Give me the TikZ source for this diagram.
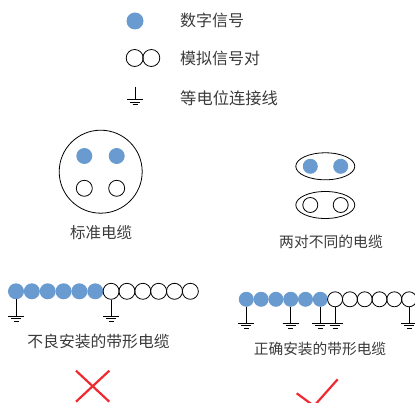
\documentclass[tikz,border=0pt]{standalone}
\usepackage{fontspec}
\usetikzlibrary{shapes.geometric}
\newfontfamily\cjk{Noto Sans CJK SC}
\definecolor{sigblue}{HTML}{6A9BD0}
\definecolor{txtgray}{HTML}{3A3A3A}
\definecolor{crossred}{HTML}{EE2A30}
\tikzset{
  digital/.style={circle,fill=sigblue,inner sep=0pt,minimum size=#1},
  digital/.default=16pt,
  analog/.style={circle,draw=black,line width=0.8pt,inner sep=0pt,minimum size=#1},
  analog/.default=16pt,
  sheath/.style={ellipse,draw=black,line width=0.8pt,inner sep=0pt,minimum width=59pt,minimum height=27pt},
  caption/.style={font=\cjk\fontsize{#1}{#1}\selectfont,text=txtgray,inner sep=0pt},
  caption/.default=15.5pt,
  wire/.style={line width=0.8pt,black},
  redline/.style={line width=2.2pt,crossred},
  earth/.pic={
    \draw[wire] (-8,0) -- (8,0);
    \draw[wire] (-5,2.6) -- (5,2.6);
    \draw[wire] (-2.5,5) -- (2.5,5);
  }
}
\begin{document}
\begin{tikzpicture}[x=1pt,y=-1pt]
    \useasboundingbox (0,0) rectangle (415,403);
    % legend
    \node[digital=17pt] (legA) at (135,21) {};
    \node[analog=17pt] (legB) at (134.7,58) {};
    \node[analog=17pt] (legC) at (151.3,58) {};
    \coordinate (legT) at (135,87);
    \coordinate (legG) at (135,99.5);
    \draw[wire] (legT) -- (legG);
    \pic at (legG) {earth};
    \node[caption=16pt,anchor=west] (txtA) at (180,20) {数字信号};
    \node[caption=16pt,anchor=west] (txtB) at (180,58) {模拟信号对};
    \node[caption=16.3pt,anchor=west] (txtC) at (180,98) {等电位连接线};
    % round cable
    \node[circle,draw=black,line width=0.8pt,inner sep=0pt,minimum size=83pt] (round) at (100.7,171.7) {};
    \node[digital] (rdA) at (84.3,156) {};
    \node[digital] (rdB) at (116.7,156) {};
    \node[analog] (rdC) at (84.3,188.3) {};
    \node[analog] (rdD) at (116.7,188.3) {};
    \node[caption] (txtR) at (101,232.7) {标准电缆};
    % two pairs
    \node[sheath] (pairA) at (325.3,166.3) {};
    \node[sheath] (pairB) at (325.3,205) {};
    \node[digital=15pt] (paA) at (310.3,166.3) {};
    \node[digital=15pt] (paB) at (340.7,166.3) {};
    \node[analog=15pt] (pbA) at (310.3,205) {};
    \node[analog=15pt] (pbB) at (340.7,205) {};
    \node[caption=14.8pt] (txtP) at (331,242) {两对不同的电缆};
    % bad ribbon
    \foreach \i in {0,...,5}
      \node[digital] (ba\i) at (16+15.85*\i,291.3) {};
    \foreach \i in {6,...,11}
      \node[analog] (ba\i) at (16+15.85*\i,291.3) {};
    \foreach \i in {0,6} {
      \coordinate (bg\i) at (16+15.85*\i,316);
      \draw[wire] (ba\i.south) -- (bg\i);
      \pic at (bg\i) {earth};
    }
    \node[caption=15.8pt] (txtL) at (98.5,341.7) {不良安装的带形电缆};
    \coordinate (xa) at (76,370.7);
    \coordinate (xb) at (109.3,401.7);
    \coordinate (xc) at (109.3,370.7);
    \coordinate (xd) at (76,401.7);
    \draw[redline] (xa) -- (xb);
    \draw[redline] (xc) -- (xd);
    % good ribbon
    \foreach \i in {0,...,5}
      \node[digital=15pt] (go\i) at (246.3+14.8*\i,299.3) {};
    \foreach \i in {6,...,11}
      \node[analog=15pt] (go\i) at (246.3+14.8*\i,299.3) {};
    \foreach \i in {0,3,5,6,11} {
      \coordinate (gg\i) at (246.3+14.8*\i,323.3);
      \draw[wire] (go\i.south) -- (gg\i);
      \pic at (gg\i) {earth};
    }
    \node[caption=14.7pt] (txtG) at (320,349.3) {正确安装的带形电缆};
    \coordinate (ca) at (296.7,393.3);
    \coordinate (cb) at (314,406);
    \coordinate (cc) at (337.7,379.3);
    \draw[redline] (ca) -- (cb) -- (cc);
  \end{tikzpicture}
\end{document}
